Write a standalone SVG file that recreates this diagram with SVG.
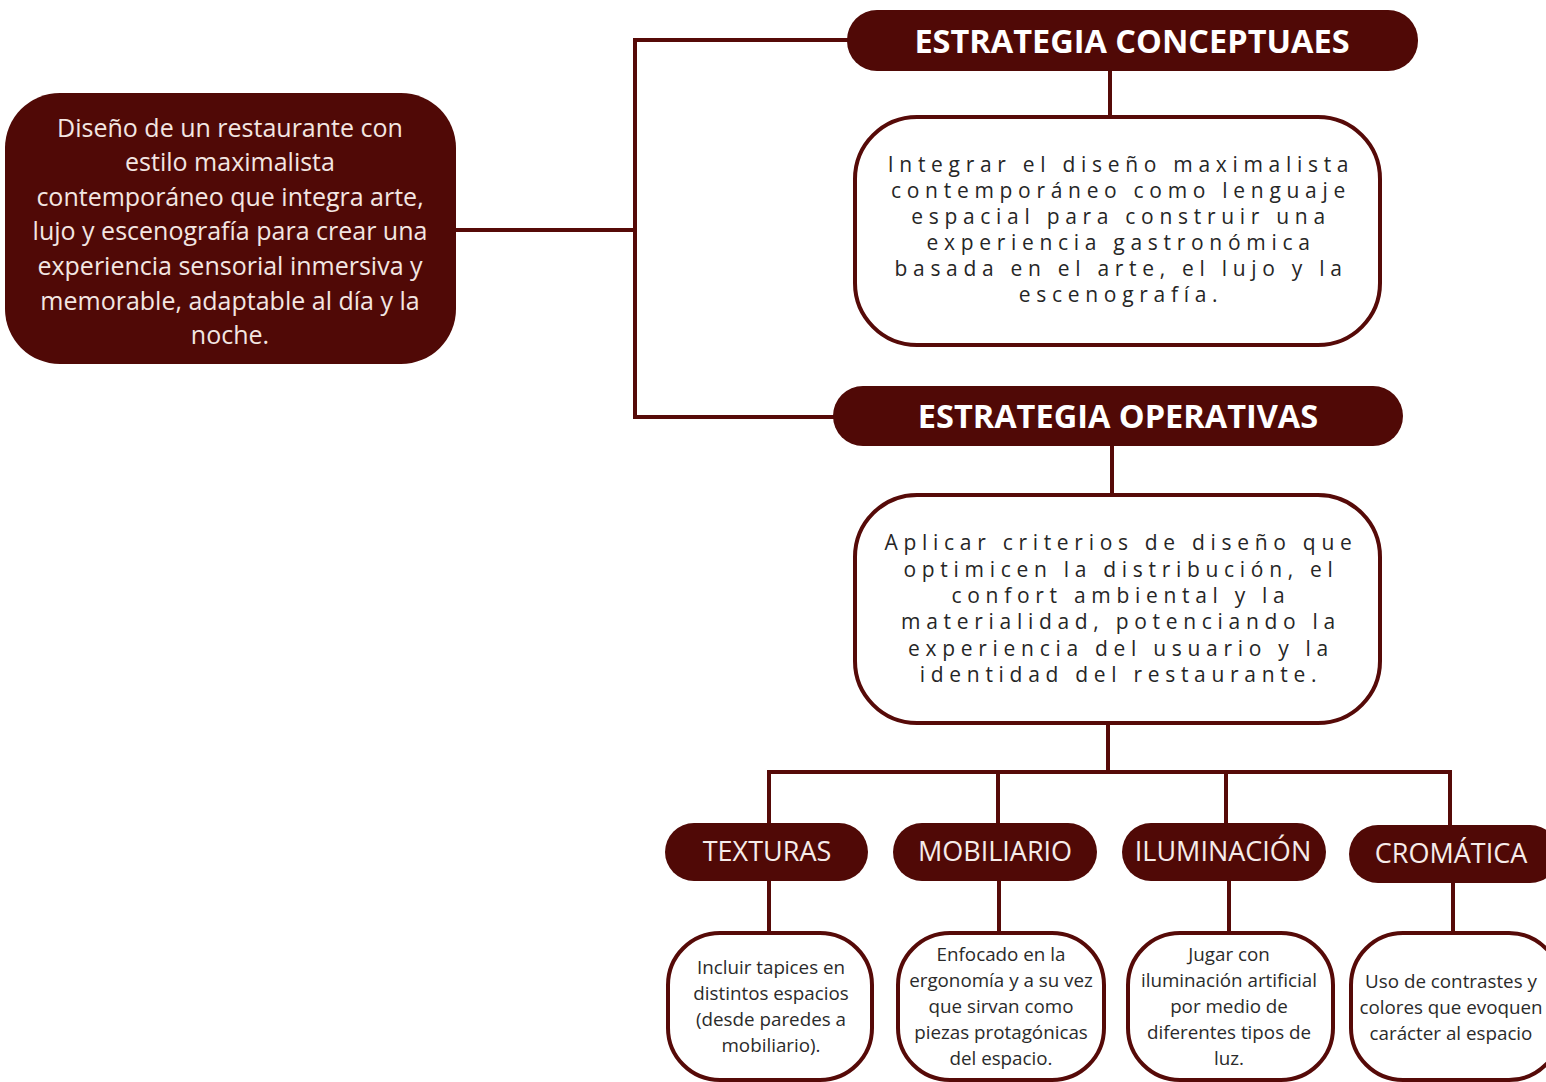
<svg xmlns="http://www.w3.org/2000/svg" width="1546" height="1082" viewBox="0 0 1546 1082">
<style>
.dark{fill:#500906;}
.box{fill:#ffffff;stroke:#560a08;stroke-width:4;}
.ln{stroke:#560a08;stroke-width:4;fill:none;stroke-linecap:square;}
.main{font-family:"Open Sans","Liberation Sans",sans-serif;font-size:25px;fill:#f3e6e2;text-anchor:middle;}
.hd{font-family:"Open Sans","Liberation Sans",sans-serif;font-size:32.5px;font-weight:bold;fill:#ffffff;text-anchor:middle;}
.sp{font-family:"Open Sans","Liberation Sans",sans-serif;font-size:21px;fill:#262626;text-anchor:middle;letter-spacing:5.7px;}
.sh{font-family:"Open Sans","Liberation Sans",sans-serif;font-size:27px;fill:#f6ecea;text-anchor:middle;}
.sm{font-family:"Open Sans","Liberation Sans",sans-serif;font-size:18.8px;fill:#2a2a2a;text-anchor:middle;}
</style>
<rect width="1546" height="1082" fill="#ffffff"/>
<g id="connectors">
<path class="ln" d="M456 230 H635 M635 40 V417 M635 40 H850 M635 417 H836"/>
<path class="ln" d="M1110 71 V117"/>
<path class="ln" d="M1112 446 V495"/>
<path class="ln" d="M1108 723 V772 M769 772 H1450 M769 772 V824 M998 772 V824 M1226 772 V824 M1450 772 V825"/>
<path class="ln" d="M769 881 V932 M999 881 V932 M1229 881 V932 M1453 883 V932"/>
</g>
<g id="node-main">
<rect class="dark" x="5" y="93" width="451" height="271" rx="55"/>
<text class="main" x="230" y="137">Diseño de un restaurante con</text>
<text class="main" x="230" y="171">estilo maximalista</text>
<text class="main" x="230" y="206">contemporáneo que integra arte,</text>
<text class="main" x="230" y="240">lujo y escenografía para crear una</text>
<text class="main" x="230" y="275">experiencia sensorial inmersiva y</text>
<text class="main" x="230" y="310">memorable, adaptable al día y la</text>
<text class="main" x="230" y="344">noche.</text>
</g>
<g id="node-conceptuales">
<rect class="dark" x="847" y="10" width="571" height="61" rx="30"/>
<text class="hd" x="1132" y="53">ESTRATEGIA CONCEPTUAES</text>
</g>
<g id="node-conceptuales-desc">
<rect class="box" x="855" y="117" width="525" height="228" rx="62"/>
<text class="sp" x="1121" y="172">Integrar el diseño maximalista</text>
<text class="sp" x="1121" y="198">contemporáneo como lenguaje</text>
<text class="sp" x="1121" y="224">espacial para construir una</text>
<text class="sp" x="1121" y="250">experiencia gastronómica</text>
<text class="sp" x="1121" y="276">basada en el arte, el lujo y la</text>
<text class="sp" x="1121" y="302">escenografía.</text>
</g>
<g id="node-operativas">
<rect class="dark" x="833" y="386" width="570" height="60" rx="30"/>
<text class="hd" x="1118" y="428">ESTRATEGIA OPERATIVAS</text>
</g>
<g id="node-operativas-desc">
<rect class="box" x="855" y="495" width="525" height="228" rx="62"/>
<text class="sp" x="1121" y="550">Aplicar criterios de diseño que</text>
<text class="sp" x="1121" y="577">optimicen la distribución, el</text>
<text class="sp" x="1121" y="603">confort ambiental y la</text>
<text class="sp" x="1121" y="629">materialidad, potenciando la</text>
<text class="sp" x="1121" y="656">experiencia del usuario y la</text>
<text class="sp" x="1121" y="682">identidad del restaurante.</text>
</g>
<g id="node-texturas">
<rect class="dark" x="665" y="823" width="203" height="58" rx="29"/>
<text class="sh" x="767" y="861">TEXTURAS</text>
</g>
<g id="node-mobiliario">
<rect class="dark" x="893" y="823" width="204" height="58" rx="29"/>
<text class="sh" x="995" y="861">MOBILIARIO</text>
</g>
<g id="node-iluminacion">
<rect class="dark" x="1122" y="823" width="204" height="58" rx="29"/>
<text class="sh" x="1223" y="861">ILUMINACIÓN</text>
</g>
<g id="node-cromatica">
<rect class="dark" x="1349" y="825" width="210" height="58" rx="29"/>
<text class="sh" x="1451" y="863">CROMÁTICA</text>
</g>
<g id="node-texturas-desc">
<rect class="box" x="668" y="933" width="204" height="147" rx="52"/>
<text class="sm" x="771" y="974">Incluir tapices en</text>
<text class="sm" x="771" y="1000">distintos espacios</text>
<text class="sm" x="771" y="1026">(desde paredes a</text>
<text class="sm" x="771" y="1052">mobiliario).</text>
</g>
<g id="node-mobiliario-desc">
<rect class="box" x="898" y="933" width="206" height="147" rx="52"/>
<text class="sm" x="1001" y="961">Enfocado en la</text>
<text class="sm" x="1001" y="987">ergonomía y a su vez</text>
<text class="sm" x="1001" y="1013">que sirvan como</text>
<text class="sm" x="1001" y="1039">piezas protagónicas</text>
<text class="sm" x="1001" y="1065">del espacio.</text>
</g>
<g id="node-iluminacion-desc">
<rect class="box" x="1128" y="933" width="205" height="147" rx="52"/>
<text class="sm" x="1229" y="961">Jugar con</text>
<text class="sm" x="1229" y="987">iluminación artificial</text>
<text class="sm" x="1229" y="1013">por medio de</text>
<text class="sm" x="1229" y="1039">diferentes tipos de</text>
<text class="sm" x="1229" y="1065">luz.</text>
</g>
<g id="node-cromatica-desc">
<rect class="box" x="1351" y="933" width="210" height="147" rx="52"/>
<text class="sm" x="1451" y="988">Uso de contrastes y</text>
<text class="sm" x="1451" y="1014">colores que evoquen</text>
<text class="sm" x="1451" y="1040">carácter al espacio</text>
</g>
</svg>
